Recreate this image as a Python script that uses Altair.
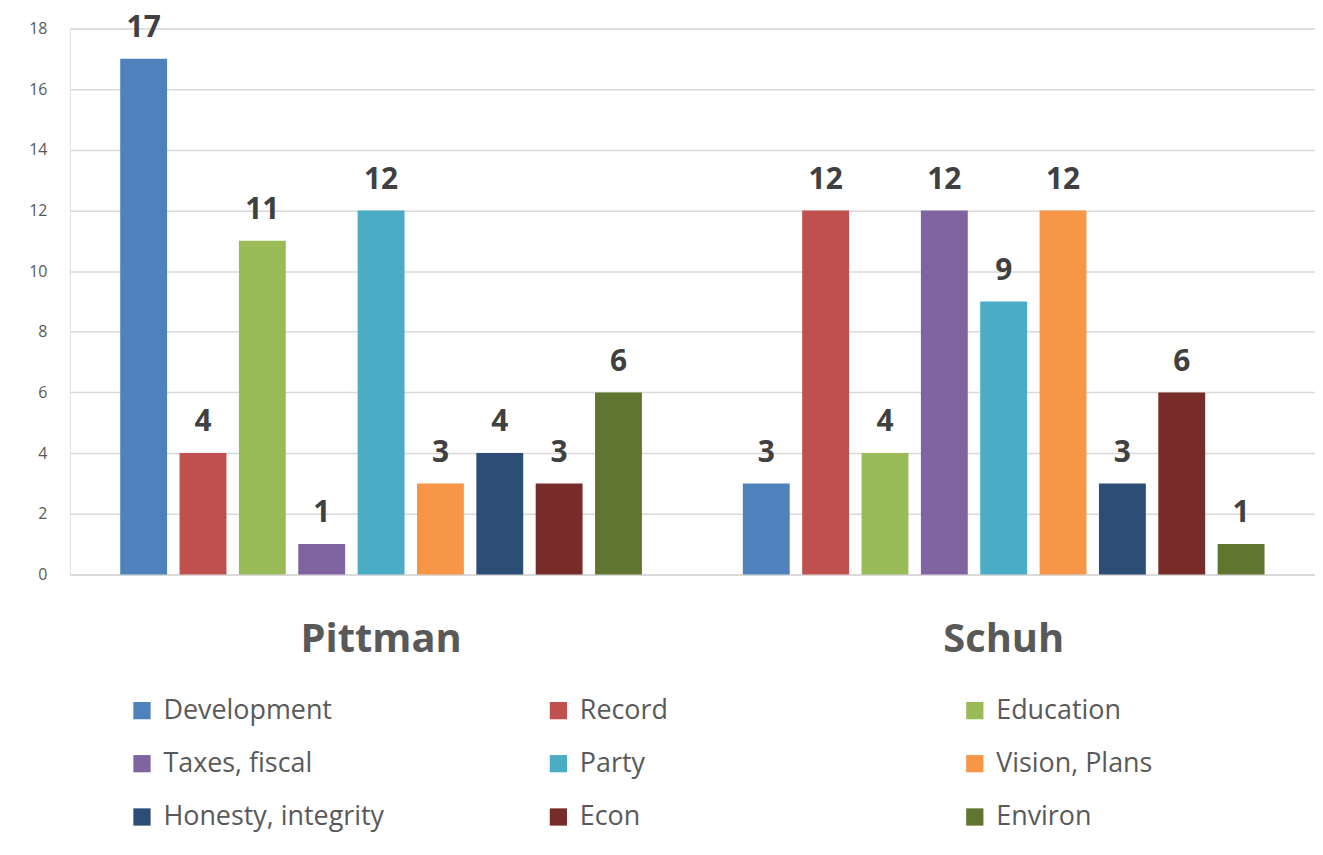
import altair as alt
import pandas as pd

candidates = ["Pittman", "Schuh"]
categories = ["Development", "Record", "Education", "Taxes, fiscal", "Party",
              "Vision, Plans", "Honesty, integrity", "Econ", "Environ"]
pittman = [17, 4, 11, 1, 12, 3, 4, 3, 6]
schuh = [3, 12, 4, 12, 9, 12, 3, 6, 1]
colors = ["#4F81BD", "#C0504D", "#9BBB59", "#8064A2", "#4BACC6",
          "#F79646", "#2C4D75", "#772C2A", "#5F7530"]
y_ticks = [0, 2, 4, 6, 8, 10, 12, 14, 16, 18]

rows = []
for cand, vals in zip(candidates, [pittman, schuh]):
    for cat, v in zip(categories, vals):
        rows.append({"candidate": cand, "category": cat, "value": v})
df = pd.DataFrame(rows)

FONT = "Open Sans"
GREY = "#595959"

x_enc = alt.X("candidate:N", sort=candidates,
              scale=alt.Scale(paddingInner=0, paddingOuter=0, round=False),
              axis=alt.Axis(title=None, labelAngle=0, labelFontSize=40, labelFontWeight="bold",
                            labelColor=GREY, labelFont=FONT, labelPadding=45, ticks=False,
                            domain=True, domainColor="#D9D9D9", domainWidth=1.5))
xo_enc = alt.XOffset("category:N", sort=categories,
                     scale=alt.Scale(paddingInner=0.21, paddingOuter=0.85, round=False))
y_enc = alt.Y("value:Q", scale=alt.Scale(domain=[0, 18], nice=False),
              axis=alt.Axis(title=None, values=y_ticks, labelFontSize=16, labelColor=GREY,
                            labelFont=FONT, labelPadding=23, ticks=False, domain=False,
                            gridColor="#D9D9D9", gridWidth=1.5))
color_enc = alt.Color("category:N", sort=categories,
                      scale=alt.Scale(domain=categories, range=colors),
                      legend=alt.Legend(title=None, orient="none", legendX=59, legendY=671,
                                        direction="horizontal", columns=3, gridAlign="all",
                                        columnPadding=161, rowPadding=25.5, labelLimit=400,
                                        symbolType="square", symbolSize=300,
                                        symbolStrokeWidth=0, labelFontSize=27,
                                        labelColor=GREY, labelFont=FONT, labelOffset=8,
                                        symbolOpacity=1))

bars = alt.Chart(df).mark_bar(opacity=1).encode(
    x=x_enc, xOffset=xo_enc, y=y_enc, color=color_enc)

labels = alt.Chart(df).mark_text(fontSize=30, fontWeight="bold", color="#404040",
                                 font=FONT, baseline="alphabetic", dy=-22).encode(
    x=x_enc, xOffset=xo_enc, y=y_enc, text="value:Q")

chart = (bars + labels).properties(
    width=1250, height=548,
    autosize=alt.AutoSizeParams(type="none"),
    padding={"left": 62, "top": 19, "right": 0, "bottom": 260},
).configure_view(stroke=None).configure(background="white")

chart.save("out.html", embed_options={"renderer": "svg", "actions": False})
